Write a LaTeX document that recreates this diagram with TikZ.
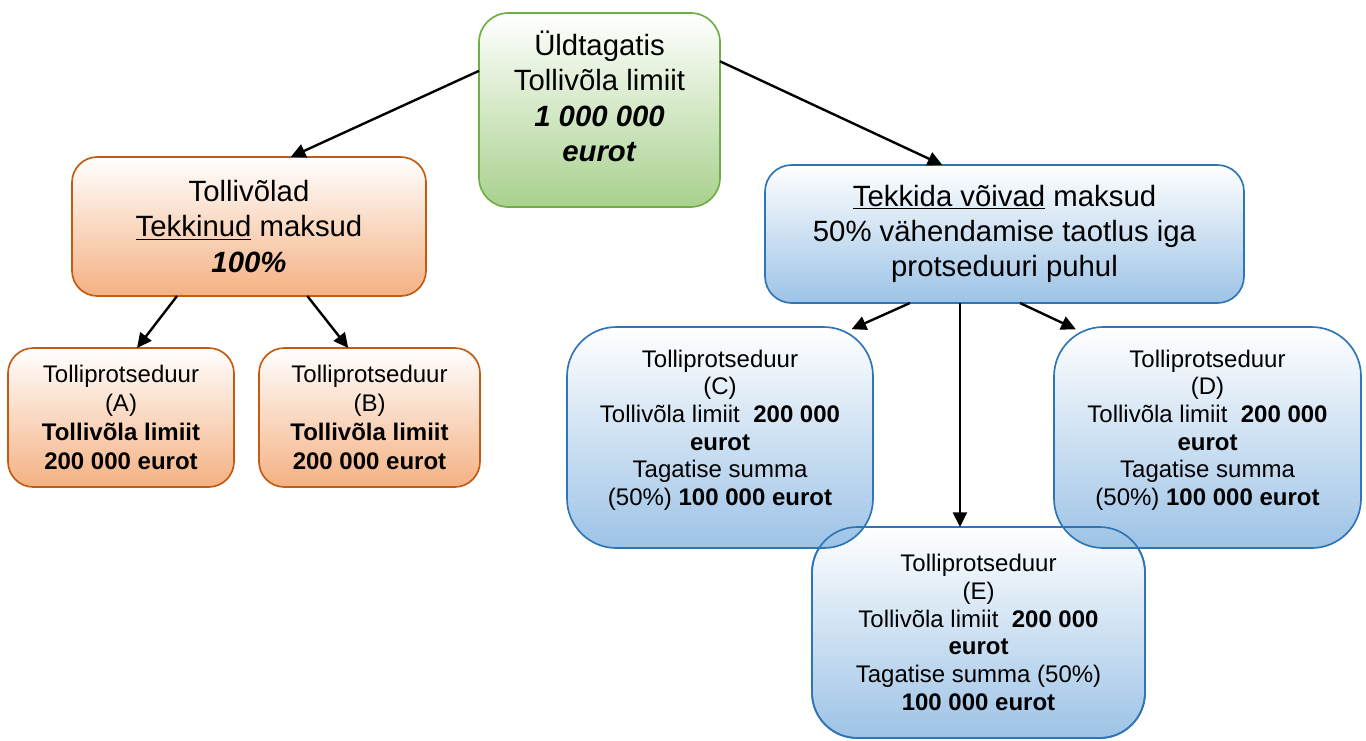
\documentclass[tikz,border=0pt]{standalone}
\usepackage{fontspec}
\setmainfont{Liberation Sans}
\usetikzlibrary{arrows.meta,calc}
\definecolor{gline}{HTML}{70AD47}
\definecolor{gfill}{HTML}{A9D18E}
\definecolor{oline}{HTML}{C55A11}
\definecolor{ofill}{HTML}{F4B183}
\definecolor{bline}{HTML}{2E75B6}
\definecolor{bfill}{HTML}{9DC3E6}
\begin{document}
\begin{tikzpicture}[x=0.75pt,y=-0.75pt,
  box/.style={draw, line width=1.25pt, outer sep=0pt, inner sep=0pt, align=center, text=black},
  gbox/.style={box, draw=gline, top color=white, bottom color=gfill},
  obox/.style={box, draw=oline, top color=white, bottom color=ofill},
  bbox/.style={box, draw=bline, top color=white, bottom color=bfill},
  bigtext/.style={font=\fontsize{22}{26.5}\selectfont},
  smalltext/.style={font=\fontsize{18}{21.8}\selectfont},
  midtext/.style={font=\fontsize{18}{20.8}\selectfont},
  arr/.style={line width=1.8pt, -{Triangle[length=11pt,width=10.5pt]}}
]
\useasboundingbox[fill=white] (0,0) rectangle (1366,740);

\node[gbox, rounded corners=22pt, minimum width=180.75pt, minimum height=145.5pt,
      font=\fontsize{22}{26.5}\selectfont] (top) at (599.5,110)
  {Üldtagatis\\Tollivõla limiit\\\textbf{\textit{1 000 000}}\\\textbf{\textit{eurot}}\\[-6pt]};

\node[obox, rounded corners=19pt, minimum width=265.5pt, minimum height=104.25pt, bigtext] (tv) at (249,226.5)
  {Tollivõlad\\\underline{Tekkinud} maksud\\\textbf{\textit{100\%}}};

\node[bbox, rounded corners=20pt, minimum width=359.25pt, minimum height=103.5pt, bigtext] (tk) at (1004.5,234)
  {\underline{Tekkida võivad} maksud\\50\% vähendamise taotlus iga\\protseduuri puhul};

\node[obox, rounded corners=19pt, minimum width=169.5pt, minimum height=104.25pt, smalltext] (A) at (121,417.5)
  {Tolliprotseduur\\(A)\\\textbf{Tollivõla limiit}\\\textbf{200 000 eurot}};

\node[obox, rounded corners=19pt, minimum width=165.75pt, minimum height=104.25pt, smalltext] (B) at (369.5,417.5)
  {Tolliprotseduur\\(B)\\\textbf{Tollivõla limiit}\\\textbf{200 000 eurot}};

\node[bbox, rounded corners=34pt, minimum width=249.75pt, minimum height=158.25pt, midtext] (E) at (978.5,632.5)
  {Tolliprotseduur\\(E)\\Tollivõla limiit\ \ \textbf{200 000}\\\textbf{eurot}\\Tagatise summa (50\%)\\\textbf{100 000 eurot}};

\node[bbox, rounded corners=37pt, minimum width=229.5pt, minimum height=165.75pt, midtext] (C) at (720,437.5)
  {Tolliprotseduur\\(C)\\Tollivõla limiit\ \ \textbf{200 000}\\\textbf{eurot}\\Tagatise summa\\(50\%) \textbf{100 000 eurot}\\[-6pt]};

\node[bbox, rounded corners=37pt, minimum width=230.25pt, minimum height=165.75pt, midtext] (D) at (1207.5,437.5)
  {Tolliprotseduur\\(D)\\Tollivõla limiit\ \ \textbf{200 000}\\\textbf{eurot}\\Tagatise summa\\(50\%) \textbf{100 000 eurot}\\[-6pt]};

\draw[draw=bline, line width=1.25pt, rounded corners=34pt] (E.north west) rectangle (E.south east);

\draw[arr] (top.162) -- (tv.59);
\draw[arr] (top.22) -- (tk.132);
\draw[arr] (tv.224) -- (A.77);
\draw[arr] (tv.310) -- (B.107);
\draw[arr, shorten >=-4pt] ([xshift=-70.9pt]tk.south) -- (C.39);
\draw[arr] ([xshift=-33.4pt]tk.south) -- ([xshift=-13.9pt]E.north);
\draw[arr, shorten >=-4pt] ([xshift=11.6pt]tk.south) -- (D.141);
\end{tikzpicture}
\end{document}
